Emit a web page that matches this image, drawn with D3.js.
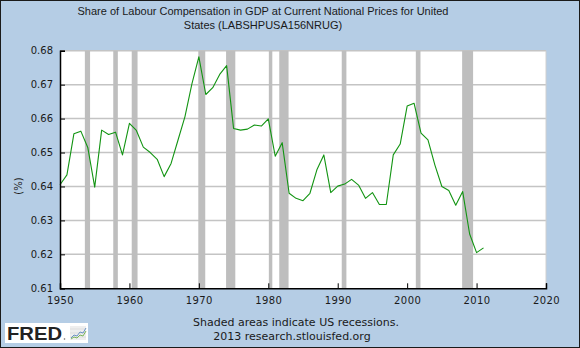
<!DOCTYPE html>
<html>
<head>
<meta charset="utf-8">
<script src="https://cdn.jsdelivr.net/npm/d3@7"></script>
<style>
  html, body { margin: 0; padding: 0; background: #b5cde5; }
  svg { display: block; }
</style>
</head>
<body>
<svg id="chart" width="580" height="348"></svg>
<script>
// Annual labour share of GDP, United States (FRED series LABSHPUSA156NRUG)
const years = d3.range(1950, 2012);
const labourShare = [
  0.6405, 0.6434, 0.6555, 0.6563, 0.6515, 0.6398, 0.6566, 0.6553, 0.6560, 0.6493,
  0.6586, 0.6565, 0.6516, 0.6500, 0.6480, 0.6429, 0.6468, 0.6537, 0.6606, 0.6702,
  0.6782, 0.6671, 0.6691, 0.6730, 0.6756, 0.6571, 0.6566, 0.6569, 0.6581, 0.6578,
  0.6599, 0.6489, 0.6529, 0.6380, 0.6365, 0.6358, 0.6380, 0.6449, 0.6493, 0.6382,
  0.6401, 0.6407, 0.6421, 0.6404, 0.6365, 0.6382, 0.6347, 0.6347, 0.6493, 0.6525,
  0.6637, 0.6645, 0.6557, 0.6537, 0.6463, 0.6400, 0.6388, 0.6345, 0.6385, 0.6260,
  0.6205, 0.6219
];

// NBER recession periods (fractional years)
const recessionStart = [1953.58, 1957.67, 1960.33, 1969.92, 1973.92, 1980.08, 1981.58, 1990.58, 2001.25, 2007.92];
const recessionEnd   = [1954.33, 1958.33, 1961.17, 1970.92, 1975.25, 1980.58, 1982.92, 1991.25, 2001.92, 2009.50];

const xTicks = [1950, 1960, 1970, 1980, 1990, 2000, 2010, 2020];
const yTicks = [0.61, 0.62, 0.63, 0.64, 0.65, 0.66, 0.67, 0.68];

const titleLines = [
  "Share of Labour Compensation in GDP at Current National Prices for United",
  "States (LABSHPUSA156NRUG)"
];
const footerLines = ["Shaded areas indicate US recessions.", "2013 research.stlouisfed.org"];

const W = 580, H = 348;
const plot = { left: 60, right: 546, top: 50.7, bottom: 288.3 };

const svg = d3.select("#chart");
const x = d3.scaleLinear().domain([1950, 2020]).range([plot.left, plot.right]);
const y = d3.scaleLinear().domain([0.61, 0.68]).range([plot.bottom, plot.top]);

// Background and outer frame
svg.append("rect").attr("x", 0).attr("y", 0).attr("width", W).attr("height", H).attr("fill", "#b5cde5");
svg.append("rect").attr("x", 0.5).attr("y", 0.5).attr("width", W - 1).attr("height", H - 1)
  .attr("fill", "none").attr("stroke", "#1a1a1a").attr("stroke-width", 1);

// Plot area
svg.append("rect").attr("x", plot.left).attr("y", plot.top)
  .attr("width", plot.right - plot.left).attr("height", plot.bottom - plot.top).attr("fill", "#ffffff");

// Horizontal grid
svg.append("g").selectAll("line").data(yTicks.filter(v => v > 0.61)).join("line")
  .attr("x1", plot.left).attr("x2", plot.right)
  .attr("y1", d => y(d)).attr("y2", d => y(d))
  .attr("stroke", "#c4c4c4").attr("stroke-width", 1.5);
svg.append("line").attr("x1", plot.right).attr("x2", plot.right)
  .attr("y1", plot.top).attr("y2", plot.bottom)
  .attr("stroke", "#d0d0d0").attr("stroke-width", 1);

// Recession shading
svg.append("g").selectAll("rect").data(recessionStart).join("rect")
  .attr("x", d => x(d))
  .attr("width", (d, i) => x(recessionEnd[i]) - x(d))
  .attr("y", plot.top).attr("height", plot.bottom - plot.top)
  .attr("fill", "#bebebe");

// Series line
const line = d3.line().x((d, i) => x(years[i])).y(d => y(d));
svg.append("path").datum(labourShare)
  .attr("d", line).attr("fill", "none")
  .attr("stroke", "#129412").attr("stroke-width", 1.1).attr("stroke-linejoin", "round");

// Axes
const yAxis = d3.axisLeft(y).tickValues(yTicks).tickSize(-5).tickPadding(12)
  .tickFormat(d3.format(".2f"));
const gy = svg.append("g").attr("transform", `translate(${plot.left},0)`).call(yAxis);
gy.select(".domain").attr("stroke", "#000").attr("stroke-width", 1.5);
gy.selectAll(".tick line").attr("stroke", "#000");
gy.selectAll("text").attr("font-family", "DejaVu Sans, Verdana, sans-serif")
  .attr("font-size", 10).attr("fill", "#1a1a1a").attr("x", -7);

const xAxis = d3.axisBottom(x).tickValues(xTicks).tickSize(-5).tickPadding(10)
  .tickFormat(d3.format("d"));
const gx = svg.append("g").attr("transform", `translate(0,${plot.bottom})`).call(xAxis);
gx.select(".domain").attr("stroke", "#000").attr("stroke-width", 1.5);
gx.selectAll(".tick line").attr("stroke", "#000");
gx.selectAll("text").attr("font-family", "DejaVu Sans, Verdana, sans-serif")
  .attr("font-size", 10).attr("fill", "#1a1a1a").attr("y", 9).attr("dy", "0.71em")
  .attr("letter-spacing", 0.4);

// Y axis label
svg.append("text").attr("transform", "translate(22,186) rotate(-90)")
  .attr("text-anchor", "middle").attr("font-family", "DejaVu Sans, Verdana, sans-serif")
  .attr("font-size", 10).attr("fill", "#1a1a1a").text("(%)");

// Title
svg.append("g").selectAll("text").data(titleLines).join("text")
  .attr("x", 263).attr("y", (d, i) => 15 + i * 13.5)
  .attr("text-anchor", "middle").attr("font-family", "Liberation Sans, Arial, sans-serif")
  .attr("font-size", 11).attr("fill", "#1a1a1a").text(d => d);

// Footer
svg.append("g").selectAll("text").data(footerLines).join("text")
  .attr("x", (d, i) => i === 0 ? 296 : 292).attr("y", (d, i) => 326 + i * 14)
  .attr("text-anchor", "middle").attr("font-family", "DejaVu Sans, Verdana, sans-serif")
  .attr("font-size", 11).attr("fill", "#1a1a1a").text(d => d);

// FRED logo
const logo = svg.append("g");
logo.append("rect").attr("x", 5).attr("y", 323).attr("width", 83).attr("height", 20).attr("fill", "#ffffff");
logo.append("text").attr("x", 7).attr("y", 339.5)
  .attr("font-family", "Liberation Sans, Arial, sans-serif").attr("font-weight", "bold")
  .attr("font-size", 17.5).attr("fill", "#222").attr("textLength", 55).attr("lengthAdjust", "spacingAndGlyphs")
  .text("FRED");
logo.append("circle").attr("cx", 64.5).attr("cy", 339).attr("r", 0.8).attr("fill", "#666");
logo.append("rect").attr("x", 70).attr("y", 326).attr("width", 16).attr("height", 14).attr("fill", "#eeeeee");
[329, 333, 337].forEach(v => logo.append("line").attr("x1", 70).attr("x2", 86).attr("y1", v).attr("y2", v)
  .attr("stroke", "#d4d4d4").attr("stroke-width", 0.6));
logo.append("path").attr("d", "M71,338 L74,335 L77,336 L80,332 L83,333 L86,328")
  .attr("fill", "none").attr("stroke", "#6b93c4").attr("stroke-width", 1);
logo.append("path").attr("d", "M71,339 L74,337 L77,338 L80,335 L83,336 L86,331")
  .attr("fill", "none").attr("stroke", "#7ab65a").attr("stroke-width", 1);
</script>
</body>
</html>
